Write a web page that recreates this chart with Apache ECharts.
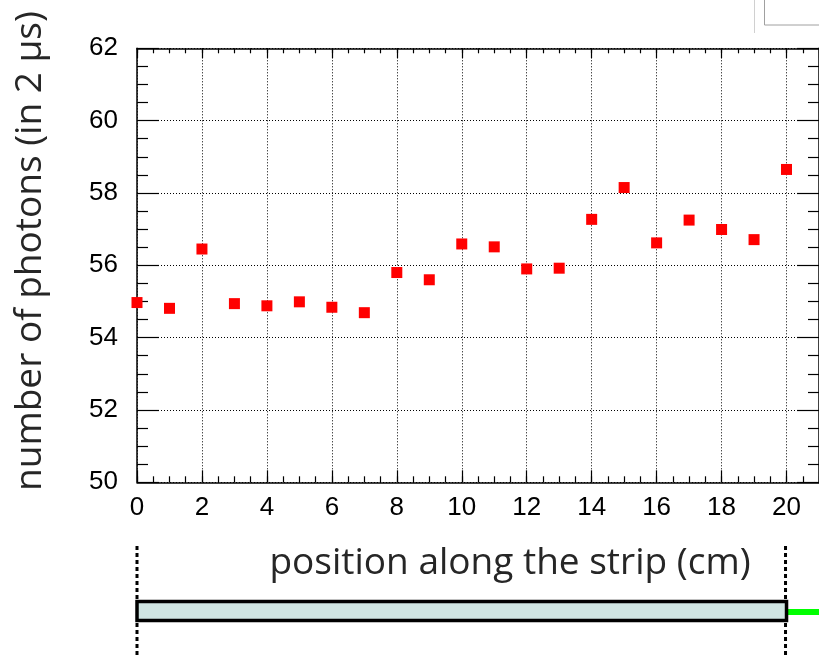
<!DOCTYPE html>
<html>
<head>
<meta charset="utf-8">
<script src="https://cdn.jsdelivr.net/npm/echarts@6/dist/echarts.min.js"></script>
<style>
html,body{margin:0;padding:0;background:#fff;}
#chart{width:819px;height:657px;}
</style>
</head>
<body>
<div id="chart"></div>
<script>
// Data
const positions = [0,1,2,3,4,5,6,7,8,9,10,11,12,13,14,15,16,17,18,19,20];
const photons = [54.97,54.81,56.45,54.94,54.88,54.99,54.84,54.69,55.80,55.60,56.59,56.51,55.90,55.92,57.27,58.15,56.62,57.25,56.99,56.71,58.65];
const xTickLabels = ['0','2','4','6','8','10','12','14','16','18','20'];
const yTickLabels = ['50','52','54','56','58','60','62'];
const yTitle = 'number of photons (in 2 µs)';
const xTitle = 'position along the strip (cm)';

const chart = echarts.init(document.getElementById('chart'), null, {renderer:'canvas'});
const lab = {fontFamily:'Liberation Sans', fontSize:26, color:'#000'};
const frame = {show:true, onZero:false, lineStyle:{color:'#000', width:1.5}};
const noLine = {show:false, onZero:false};
const grid = {type:[1,2], color:'#000', width:1};
const tickStyle = {color:'#000', width:1.2};

const option = {
  animation:false,
  grid:{left:137, top:48.3, width:684, height:434},
  xAxis:[
    {type:'value', position:'bottom', min:0, max:21, interval:2,
     axisLine:frame,
     axisTick:{show:true, inside:true, length:12, lineStyle:tickStyle},
     axisLabel:Object.assign({margin:13, showMaxLabel:false,
       formatter:function(v){ const s=String(v); return xTickLabels.indexOf(s)>=0 ? s : ''; }}, lab),
     splitLine:{show:true, lineStyle:grid}},
    {type:'value', position:'bottom', min:0, max:21, interval:0.5,
     axisLine:noLine,
     axisTick:{show:true, inside:true, length:6, lineStyle:tickStyle},
     axisLabel:{show:false}, splitLine:{show:false}},
    {type:'value', position:'top', min:0, max:21, interval:2,
     axisLine:frame,
     axisTick:{show:true, inside:true, length:10, lineStyle:tickStyle},
     axisLabel:{show:false}, splitLine:{show:false}},
    {type:'value', position:'top', min:0, max:21, interval:0.5,
     axisLine:noLine,
     axisTick:{show:true, inside:true, length:5, lineStyle:tickStyle},
     axisLabel:{show:false}, splitLine:{show:false}}
  ],
  yAxis:[
    {type:'value', position:'left', min:50, max:62, interval:2,
     axisLine:frame,
     axisTick:{show:true, inside:true, length:22, lineStyle:tickStyle},
     minorTick:{show:true, splitNumber:4, length:11, lineStyle:tickStyle},
     axisLabel:Object.assign({margin:19,
       formatter:function(v){ const s=String(v); return yTickLabels.indexOf(s)>=0 ? s : ''; }}, lab),
     splitLine:{show:true, lineStyle:grid}},
    {type:'value', position:'right', min:50, max:62, interval:2,
     axisLine:frame,
     axisTick:{show:true, inside:true, length:22, lineStyle:tickStyle},
     minorTick:{show:true, splitNumber:4, length:11, lineStyle:tickStyle},
     axisLabel:{show:false}, splitLine:{show:false}}
  ],
  series:[{
    type:'scatter', xAxisIndex:0, yAxisIndex:0,
    symbol:'rect', symbolSize:11,
    itemStyle:{color:'#ff0000', opacity:1},
    data: positions.map((p,i)=>[p, photons[i]])
  }]
};
chart.setOption(option);

// Decorative strip drawn under the chart, aligned to the x axis
const x0 = chart.convertToPixel({xAxisIndex:0}, positions[0]);
const x1 = chart.convertToPixel({xAxisIndex:0}, positions[positions.length-1]);
const dot = {stroke:'#000', lineWidth:3, lineDash:[4,3]};
chart.setOption({
  graphic:[
    {type:'text', x:30, y:251, rotation:Math.PI/2,
     style:{text:yTitle, fontFamily:'Open Sans', fontSize:37, fill:'#262626', align:'center', verticalAlign:'middle'}},
    {type:'text', x:510, y:563,
     style:{text:xTitle, fontFamily:'Open Sans', fontSize:37, fill:'#262626', align:'center', verticalAlign:'middle'}},
    {type:'line', shape:{x1:x0, y1:546, x2:x0, y2:599}, style:dot},
    {type:'line', shape:{x1:x0, y1:623, x2:x0, y2:657}, style:dot},
    {type:'line', shape:{x1:x1-1, y1:546, x2:x1-1, y2:599}, style:dot},
    {type:'line', shape:{x1:x1-1, y1:623, x2:x1-1, y2:657}, style:dot},
    {type:'line', shape:{x1:x1, y1:612, x2:819, y2:612}, style:{stroke:'#00ff00', lineWidth:6}},
    {type:'rect', shape:{x:x0, y:601.5, width:x1-x0, height:19}, style:{fill:'#cfe5e2', stroke:'#000', lineWidth:3.5}},
    {type:'line', shape:{x1:754.5, y1:0, x2:754.5, y2:33}, style:{stroke:'#d0d0d0', lineWidth:1}},
    {type:'line', shape:{x1:764.5, y1:0, x2:764.5, y2:25}, style:{stroke:'#a0a0a0', lineWidth:1}},
    {type:'line', shape:{x1:764.5, y1:25, x2:819, y2:25}, style:{stroke:'#a0a0a0', lineWidth:1}}
  ]
});
</script>
</body>
</html>
